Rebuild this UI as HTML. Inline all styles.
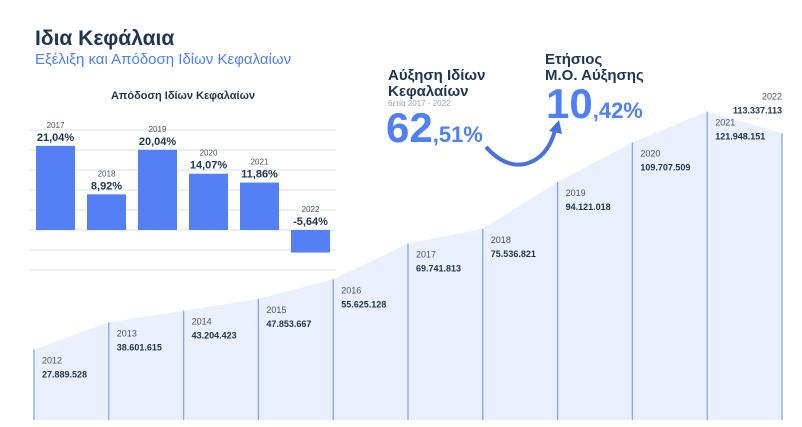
<!DOCTYPE html>
<html><head><meta charset="utf-8"><style>
body{margin:0;width:802px;height:427px;background:#fff;overflow:hidden;font-family:"Liberation Sans","DejaVu Sans",sans-serif;}
svg{position:absolute;left:0;top:0}
</style></head><body>
<svg width="802" height="427">
<text x="35" y="45" font-size="21" font-weight="bold" fill="#1f3550">Ιδια Κεφάλαια</text>
<text x="35" y="64" font-size="15" fill="#4f7ef7">Εξέλιξη και Απόδοση Ιδίων Κεφαλαίων</text>
<text x="183" y="99" font-size="11" font-weight="bold" fill="#1f3550" text-anchor="middle">Απόδοση Ιδίων Κεφαλαίων</text>
<g id="bars"></g>
<g id="area"></g>
<text x="388" y="80" font-size="15" font-weight="bold" fill="#1f3550">Αύξηση Ιδίων</text>
<text x="388" y="96" font-size="15" font-weight="bold" fill="#1f3550">Κεφαλαίων</text>
<text x="388" y="106" font-size="8" fill="#9aa3ad">6ετία 2017 - 2022</text>
<text x="386" y="142" font-weight="bold" fill="#5080f5"><tspan font-size="42">62</tspan><tspan font-size="22">,51%</tspan></text>
<text x="545" y="64" font-size="15" font-weight="bold" fill="#1f3550">Ετήσιος</text>
<text x="545" y="80" font-size="15" font-weight="bold" fill="#1f3550">Μ.Ο. Αύξησης</text>
<text x="546" y="118" font-weight="bold" fill="#5080f5"><tspan font-size="42">10</tspan><tspan font-size="22">,42%</tspan></text>
<path d="M486 147 Q505 168 525 164 Q548 158 555 130" fill="none" stroke="#4a70e0" stroke-width="4"/>
<path d="M549 131 L559 120 L562 134 Z" fill="#4a70e0"/>
</svg>
<script>
const years=["2012","2013","2014","2015","2016","2017","2018","2019","2020","2021","2022"];
const equity=[27889528,38601615,43204423,47853667,55625128,69741813,75536821,94121018,109707509,121948151,113337113];
const equityLabels=["27.889.528","38.601.615","43.204.423","47.853.667","55.625.128","69.741.813","75.536.821","94.121.018","109.707.509","121.948.151","113.337.113"];
const barYears=["2017","2018","2019","2020","2021","2022"];
const returns=[21.04,8.92,20.04,14.07,11.86,-5.64];
const returnLabels=["21,04%","8,92%","20,04%","14,07%","11,86%","-5,64%"];
const gridTicks=[-10,-5,0,5,10,15,20,25];
const NS="http://www.w3.org/2000/svg";
function mk(p,t,a){const e=document.createElementNS(NS,t);for(const k in a)e.setAttribute(k,a[k]);p.appendChild(e);return e;}
const ax=i=>34+i*74.8;
const ay=v=>420-v/1e6*2.53;
const area=document.getElementById('area');
let d="M"+ax(0)+" 420";
equity.forEach((v,i)=>{d+=" L"+ax(i)+" "+ay(v);});
d+=" L"+ax(equity.length-1)+" 420 Z";
const ap=mk(area,'path',{d:d,fill:'#e9effc'});


equity.forEach((v,i)=>{
 const l=mk(area,'line',{x1:ax(i),x2:ax(i),y1:ay(v),y2:420,stroke:'#86a4f2','stroke-width':1.3});
 
 
 const last=i===equity.length-1;
 const lx=last?ax(i):ax(i)+8, ly=last?ay(v)-34:ay(v)+14, anc=last?'end':'start';
 const t1=mk(area,'text',{x:lx,y:ly,'font-size':9,fill:'#4a5563','text-anchor':anc});
 t1.textContent=years[i];
 
 
 const t2=mk(area,'text',{x:lx,y:ly+14,'font-size':9,'font-weight':'bold',fill:'#1f3550','text-anchor':anc});
 t2.textContent=equityLabels[i];
 
 
});
const bars=document.getElementById('bars');
const by=v=>230-v*4;
gridTicks.forEach(t=>{
 const g=mk(bars,'line',{x1:30,x2:336,y1:by(t),y2:by(t),stroke:'#e6ebf3','stroke-width':1.5});
 
 
});
returns.forEach((v,i)=>{
 const x=36+i*51;
 const top=Math.min(by(v),230), h=Math.abs(by(v)-230);
 const r=mk(bars,'rect',{x:x,y:top,width:39,height:h,fill:'#5580f5'});
 
 
 const base=v>=0?by(v):230;
 const t1=mk(bars,'text',{x:x+19.5,y:base-18,'font-size':8,fill:'#4a5563','text-anchor':'middle'});
 t1.textContent=barYears[i];
 
 
 const t2=mk(bars,'text',{x:x+19.5,y:base-5,'font-size':11,'font-weight':'bold',fill:'#1f3550','text-anchor':'middle'});
 t2.textContent=returnLabels[i];
 
 
});
</script>
</body></html>
